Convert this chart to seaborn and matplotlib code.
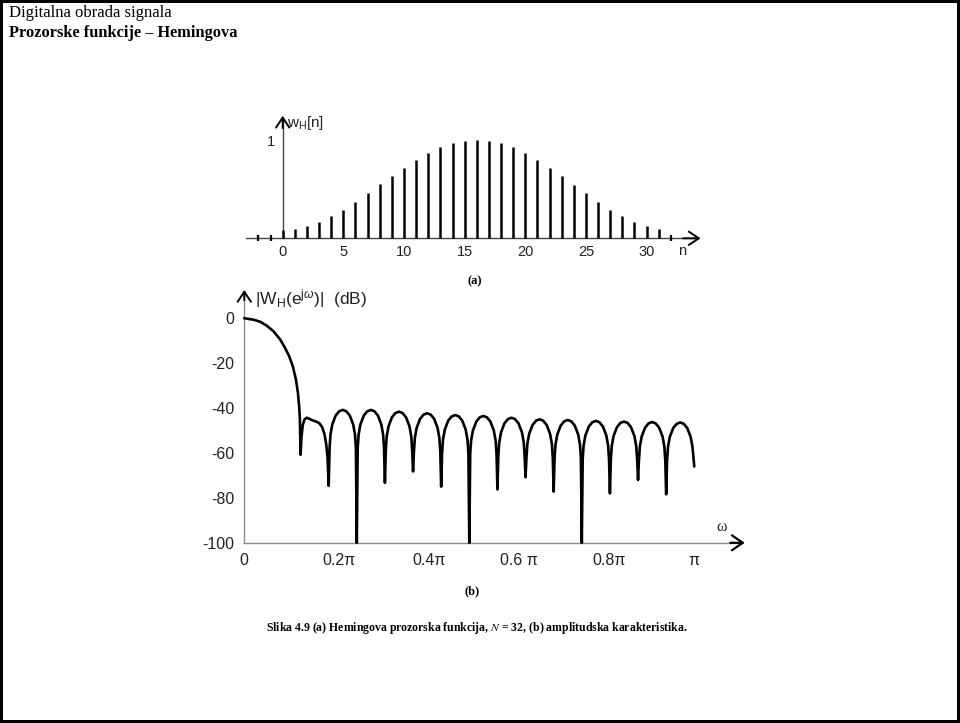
import numpy as np
import pandas as pd
import matplotlib
matplotlib.use("Agg")
import matplotlib.pyplot as plt
import seaborn as sns
from matplotlib.patches import Rectangle
from matplotlib.transforms import ScaledTranslation

# ---------------- data ----------------
# (a) Hamming window samples w_H[n]
n_idx = list(range(0, 32))
w_vals = [0.085, 0.096, 0.126, 0.167, 0.225, 0.294, 0.372, 0.461, 0.553, 0.638,
          0.724, 0.805, 0.874, 0.932, 0.973, 1.000, 1.010, 1.000, 0.976, 0.932,
          0.870, 0.805, 0.724, 0.638, 0.550, 0.461, 0.372, 0.294, 0.225, 0.167,
          0.126, 0.096]
n_zero = [-2, -1, 32]
x_ticks_a = [0, 5, 10, 15, 20, 25, 30]
y_ticks_a = [0.25, 0.5, 0.75, 1.0]
y_labels_a = ["", "", "", "1"]

# (b) |W_H(e^{jw})| in dB, omega in units of pi
omega_main = [0, 0.02, 0.035, 0.05, 0.065, 0.08, 0.09, 0.10, 0.108, 0.115,
              0.119, 0.122, 0.1235, 0.125]
db_main = [0, -0.6, -1.5, -3.3, -5.8, -9.5, -13, -17, -21.5, -27.5,
           -33, -39.5, -45, -60.8]

omega_shoulder = [0.127, 0.130, 0.134, 0.139, 0.145, 0.152, 0.160, 0.167,
                  0.173, 0.178, 0.182, 0.185, 0.1875]
db_shoulder = [-53, -47.5, -45, -44.3, -44.8, -45.5, -46.0, -46.8,
               -48.5, -51.5, -56, -62, -74.6]

omega_lobes_low = [
    0.1895, 0.1915, 0.1955, 0.2031, 0.2109, 0.2188, 0.2266, 0.2344, 0.2420, 0.2460, 0.2480, 0.2500,
    0.2520, 0.2540, 0.2580, 0.2656, 0.2734, 0.2813, 0.2891, 0.2969, 0.3045, 0.3085, 0.3105, 0.3125,
    0.3145, 0.3165, 0.3205, 0.3281, 0.3359, 0.3438, 0.3516, 0.3594, 0.3670, 0.3710, 0.3730, 0.3750,
    0.3770, 0.3790, 0.3830, 0.3906, 0.3984, 0.4063, 0.4141, 0.4219, 0.4295, 0.4335, 0.4355, 0.4375,
    0.4395, 0.4415, 0.4455, 0.4531, 0.4609, 0.4688, 0.4766, 0.4844, 0.4920, 0.4960, 0.4980, 0.5000]
db_lobes_low = [
    -57.8, -51.8, -47.3, -43.3, -41.4, -40.8, -41.4, -43.3, -47.3, -51.8, -57.8, -100,
    -57.8, -51.8, -47.3, -43.3, -41.4, -40.8, -41.4, -43.3, -47.3, -51.8, -57.8, -73.3,
    -58.6, -52.6, -48.1, -44.1, -42.2, -41.6, -42.2, -44.1, -48.1, -52.6, -58.6, -68.2,
    -59.3, -53.3, -48.8, -44.8, -42.9, -42.3, -42.9, -44.8, -48.8, -53.3, -59.3, -75.0,
    -60.1, -54.1, -49.6, -45.6, -43.7, -43.1, -43.7, -45.6, -49.6, -54.1, -60.1, -100]

omega_lobes_high = [
    0.5020, 0.5040, 0.5080, 0.5156, 0.5234, 0.5313, 0.5391, 0.5469, 0.5545, 0.5585, 0.5605, 0.5625,
    0.5645, 0.5665, 0.5705, 0.5781, 0.5859, 0.5938, 0.6016, 0.6094, 0.6170, 0.6210, 0.6230, 0.6250,
    0.6270, 0.6290, 0.6330, 0.6406, 0.6484, 0.6563, 0.6641, 0.6719, 0.6795, 0.6835, 0.6855, 0.6875,
    0.6895, 0.6915, 0.6955, 0.7031, 0.7109, 0.7188, 0.7266, 0.7344, 0.7420, 0.7460, 0.7480, 0.7500,
    0.7520, 0.7540, 0.7580, 0.7656, 0.7734, 0.7813, 0.7891, 0.7969, 0.8045, 0.8085, 0.8105, 0.8125,
    0.8145, 0.8165, 0.8205, 0.8281, 0.8359, 0.8438, 0.8516, 0.8594, 0.8670, 0.8710, 0.8730, 0.8750,
    0.8770, 0.8790, 0.8830, 0.8906, 0.8984, 0.9063, 0.9141, 0.9219, 0.9295, 0.9335, 0.9355, 0.9375,
    0.9395, 0.9415, 0.9455, 0.9531, 0.9609, 0.9688, 0.9766, 0.9844, 0.9920, 0.9960, 1.0000]
db_lobes_high = [
    -60.5, -54.5, -50.0, -46.0, -44.1, -43.5, -44.1, -46.0, -50.0, -54.5, -60.5, -76.2,
    -61.3, -55.3, -50.8, -46.8, -44.9, -44.3, -44.9, -46.8, -50.8, -55.3, -61.3, -70.8,
    -62.0, -56.0, -51.5, -47.5, -45.6, -45.0, -45.6, -47.5, -51.5, -56.0, -62.0, -77.2,
    -62.3, -56.3, -51.8, -47.8, -45.9, -45.3, -45.9, -47.8, -51.8, -56.3, -62.3, -100,
    -62.7, -56.7, -52.2, -48.2, -46.3, -45.7, -46.3, -48.2, -52.2, -56.7, -62.7, -78.0,
    -63.0, -57.0, -52.5, -48.5, -46.6, -46.0, -46.6, -48.5, -52.5, -57.0, -63.0, -72.0,
    -63.2, -57.2, -52.7, -48.7, -46.8, -46.2, -46.8, -48.7, -52.7, -57.2, -63.2, -78.4,
    -63.4, -57.4, -52.9, -48.9, -47.0, -46.4, -47.0, -48.9, -52.9, -57.4, -66.0]

x_ticks_b = [0, 0.2, 0.4, 0.6, 0.8, 1.0]
x_labels_b = ["0", "0.2\u03c0", "0.4\u03c0", "0.6 \u03c0", "0.8\u03c0", "\u03c0"]
y_major_b = [-100, -80, -60, -40, -20, 0]
y_minor_b = [-90, -70, -50, -30, -10]

title1 = "Digitalna obrada signala"
title2 = "Prozorske funkcije \u2013 Hemingova"

# ---------------- style ----------------
sns.set_theme(style="white")
plt.rcParams["font.family"] = ["Liberation Sans", "DejaVu Sans"]
plt.rcParams["mathtext.fontset"] = "custom"
plt.rcParams["mathtext.rm"] = "Liberation Sans"
plt.rcParams["mathtext.it"] = "Liberation Sans:italic"
plt.rcParams["mathtext.bf"] = "Liberation Sans:bold"

W, H = 960, 723
fig = plt.figure(figsize=(W / 100, H / 100), dpi=100)
fig.patch.set_facecolor("white")


def rect(l, t, r, b):
    return [l / W, 1 - b / H, (r - l) / W, (b - t) / H]


def fx(x):
    return x / W


def fy(y):
    return 1 - y / H


TXT = "#222222"
SERIF = ["Liberation Serif", "DejaVu Serif"]

# ---------------- (a) stem plot ----------------
ax_a = fig.add_axes(rect(240, 112, 710, 262))
ax_a.set_facecolor("none")
ax_a.set_xlim(-3.520, 35.228)
ax_a.set_ylim(-0.2428, 1.2941)
ax_a.vlines(n_idx, 0, w_vals, color="black", lw=1.8, zorder=3)
sns.scatterplot(x=n_zero, y=[0.0] * len(n_zero), ax=ax_a, marker="|", s=18,
                color="black", linewidth=1.6, zorder=3, legend=False)
for s in ["top", "right"]:
    ax_a.spines[s].set_visible(False)
ax_a.spines["left"].set_position(("data", 0))
ax_a.spines["left"].set_bounds(0, 1.23)
ax_a.spines["bottom"].set_position(("data", 0))
ax_a.spines["bottom"].set_bounds(-3, 34.2)
for s in ["left", "bottom"]:
    ax_a.spines[s].set_color("#444444")
    ax_a.spines[s].set_linewidth(1.0)
ax_a.set_xticks(x_ticks_a)
ax_a.set_xticklabels([str(v) for v in x_ticks_a])
ax_a.tick_params(axis="x", length=0, pad=4.8, labelsize=10.5, labelcolor=TXT)
ax_a.set_yticks(y_ticks_a)
ax_a.set_yticklabels(y_labels_a)
ax_a.tick_params(axis="y", direction="inout", length=4.3, width=1.0,
                 color="#444444", pad=3.4, labelsize=10.5, labelcolor=TXT)
ax_a.set_xlabel("")
ax_a.set_ylabel("")
ax_a.annotate("", xy=(34.45, 0), xytext=(33.0, 0),
              arrowprops=dict(arrowstyle="->,head_length=0.6,head_width=0.4",
                              color="black", lw=1.4, shrinkA=0, shrinkB=0))
ax_a.annotate("", xy=(0, 1.255), xytext=(0, 1.13),
              arrowprops=dict(arrowstyle="->,head_length=0.6,head_width=0.4",
                              color="black", lw=1.4, shrinkA=0, shrinkB=0))
fig.text(fx(287), fy(127), r"w$_\mathrm{H}$[n]", fontsize=11, color=TXT,
         ha="left", va="baseline")
fig.text(fx(682), fy(251), "n", fontsize=10.5, color=TXT, ha="center", va="center")
fig.text(fx(475), fy(281), "(a)", fontsize=9, fontweight="bold", family=SERIF,
         color="black", ha="center", va="center")

# ---------------- (b) magnitude response ----------------
omega = omega_main + omega_shoulder + omega_lobes_low + omega_lobes_high
mag_db = db_main + db_shoulder + db_lobes_low + db_lobes_high
df_b = pd.DataFrame({"omega": omega, "db": mag_db})

ax_b = fig.add_axes(rect(200, 285, 760, 565))
ax_b.set_facecolor("none")
sns.lineplot(data=df_b, x="omega", y="db", ax=ax_b, color="black", lw=1.9,
             sort=False, estimator=None, zorder=3)
ax_b.set_xlim(-0.09844, 1.146)
ax_b.set_ylim(-109.89, 14.83)
for s in ["top", "right"]:
    ax_b.spines[s].set_visible(False)
ax_b.spines["left"].set_position(("data", 0))
ax_b.spines["left"].set_bounds(-100, 12.3)
ax_b.spines["bottom"].set_position(("data", -100))
ax_b.spines["bottom"].set_bounds(0, 1.105)
for s in ["left", "bottom"]:
    ax_b.spines[s].set_color("#8c8c8c")
    ax_b.spines[s].set_linewidth(1.0)
ax_b.set_xticks(x_ticks_b)
ax_b.set_xticklabels(x_labels_b)
ax_b.set_yticks(y_major_b)
ax_b.set_yticklabels([str(v) for v in y_major_b])
ax_b.set_yticks(y_minor_b, minor=True)
ax_b.tick_params(axis="both", which="both", direction="inout", length=4.3,
                 width=1.0, color="#8c8c8c", labelsize=11.5, labelcolor=TXT)
ax_b.tick_params(axis="x", pad=5.5)
ax_b.tick_params(axis="y", pad=4.8)
# numeric part of the "k pi" labels sits centred on the tick, pi hangs right
for lab in ax_b.get_xticklabels()[1:-1]:
    lab.set_transform(lab.get_transform() + ScaledTranslation(4.5 / 100, 0, fig.dpi_scale_trans))
ax_b.set_xlabel("")
ax_b.set_ylabel("")
ax_b.annotate("", xy=(1.112, -100), xytext=(1.08, -100),
              arrowprops=dict(arrowstyle="->,head_length=0.65,head_width=0.45",
                              color="black", lw=1.6, shrinkA=0, shrinkB=0))
ax_b.annotate("", xy=(0, 12.6), xytext=(0, 8.0),
              arrowprops=dict(arrowstyle="->,head_length=0.6,head_width=0.4",
                              color="black", lw=1.4, shrinkA=0, shrinkB=0))
fig.text(fx(255), fy(299), r"|W$_\mathrm{H}$(e$^{\mathrm{j}\omega}$)|  (dB)", fontsize=12.5,
         color=TXT, ha="left", va="center")
fig.text(fx(722), fy(527), "\u03c9", fontsize=11.5, family=SERIF, color=TXT,
         ha="center", va="center")
fig.text(fx(472), fy(591), "(b)", fontsize=9, fontweight="bold", family=SERIF,
         color="black", ha="center", va="center")

# ---------------- caption and slide header ----------------
fig.text(fx(477), fy(628),
         r"Slika 4.9 (a) Hemingova prozorska funkcija, $N$ = 32, (b) amplitudska karakteristika.",
         fontsize=8.5, fontweight="bold", family=SERIF, color="black",
         ha="center", va="center", math_fontfamily="stix")
fig.text(fx(9), fy(17), title1, fontsize=12, family=SERIF, color="black",
         ha="left", va="baseline")
fig.text(fx(9), fy(37), title2, fontsize=11.8, fontweight="bold", family=SERIF,
         color="black", ha="left", va="baseline")

fig.patches.append(Rectangle((0, 0), 1, 1, transform=fig.transFigure, fill=False,
                             edgecolor="black", linewidth=4.3, zorder=10))

fig.savefig("out.png", dpi=100)
